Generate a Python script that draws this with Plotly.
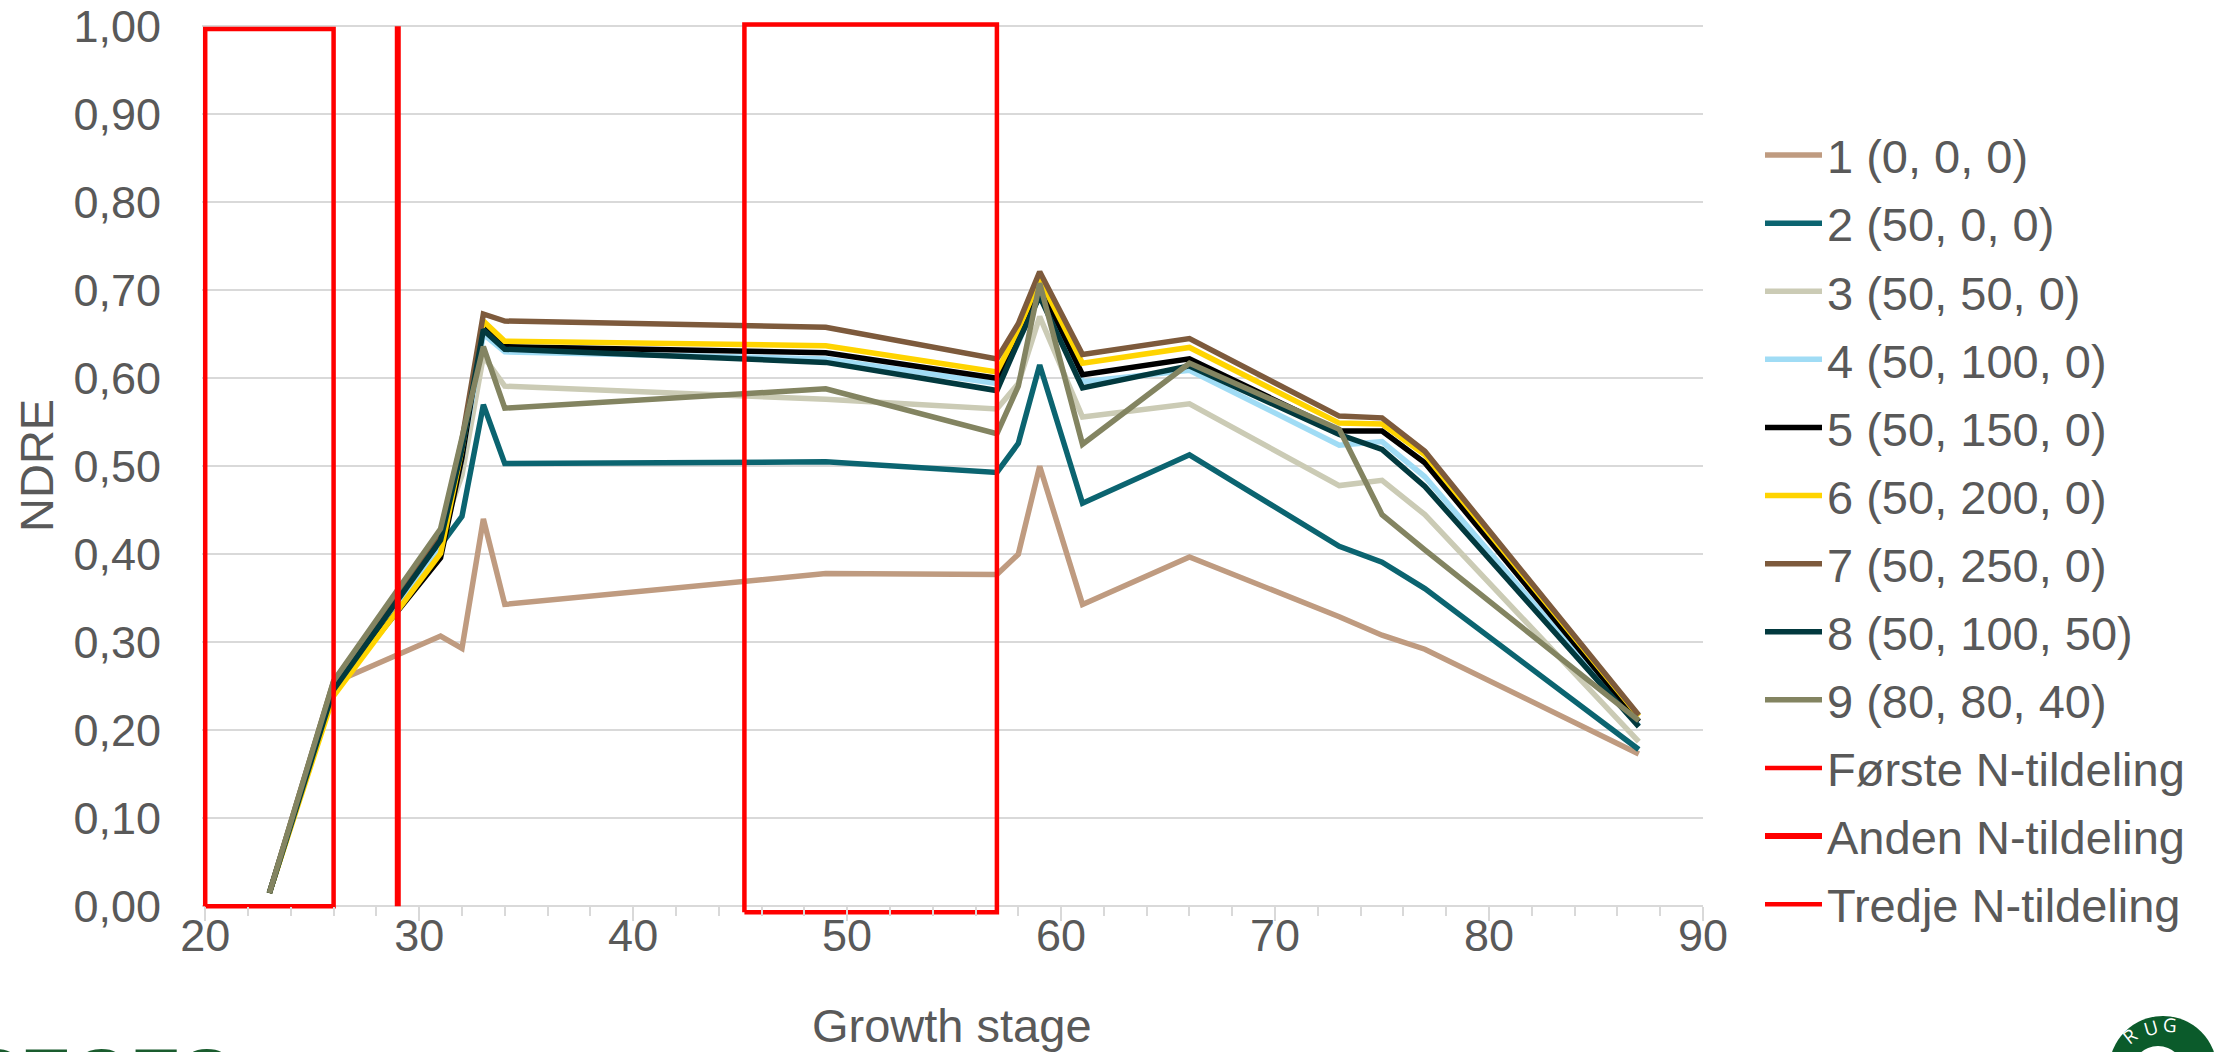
import plotly.graph_objects as go

# Growth stages (BBCH) at which NDRE was measured
growth_stage = [23, 26, 31, 32, 33, 34, 49, 57, 58, 59, 61, 66, 73, 75, 77, 87]

# NDRE per treatment, kg N/ha given as (1st, 2nd, 3rd application)
ndre_1 = [0.015, 0.254, 0.307, 0.293, 0.440, 0.343, 0.378, 0.377, 0.400, 0.500, 0.343, 0.397, 0.329, 0.308, 0.292, 0.173]
ndre_2 = [0.015, 0.250, 0.410, 0.443, 0.570, 0.503, 0.505, 0.493, 0.526, 0.615, 0.458, 0.513, 0.409, 0.391, 0.361, 0.178]
ndre_3 = [0.015, 0.250, 0.420, 0.490, 0.625, 0.591, 0.576, 0.565, 0.594, 0.670, 0.556, 0.571, 0.478, 0.484, 0.445, 0.187]
ndre_4 = [0.015, 0.250, 0.405, 0.510, 0.650, 0.630, 0.622, 0.594, 0.640, 0.700, 0.596, 0.609, 0.524, 0.528, 0.488, 0.205]
ndre_5 = [0.015, 0.245, 0.396, 0.510, 0.661, 0.636, 0.629, 0.600, 0.647, 0.706, 0.604, 0.622, 0.540, 0.540, 0.504, 0.210]
ndre_6 = [0.015, 0.239, 0.401, 0.520, 0.665, 0.642, 0.637, 0.607, 0.655, 0.713, 0.617, 0.635, 0.549, 0.548, 0.513, 0.216]
ndre_7 = [0.015, 0.255, 0.424, 0.530, 0.673, 0.665, 0.658, 0.622, 0.662, 0.721, 0.627, 0.645, 0.557, 0.555, 0.517, 0.217]
ndre_8 = [0.015, 0.246, 0.416, 0.520, 0.655, 0.633, 0.618, 0.586, 0.642, 0.693, 0.589, 0.614, 0.536, 0.519, 0.477, 0.204]
ndre_9 = [0.015, 0.256, 0.429, 0.530, 0.636, 0.566, 0.588, 0.537, 0.591, 0.708, 0.525, 0.617, 0.542, 0.445, 0.405, 0.211]

series_names = [
    "1 (0, 0, 0)", "2 (50, 0, 0)", "3 (50, 50, 0)", "4 (50, 100, 0)",
    "5 (50, 150, 0)", "6 (50, 200, 0)", "7 (50, 250, 0)", "8 (50, 100, 50)",
    "9 (80, 80, 40)",
]
series_values = [ndre_1, ndre_2, ndre_3, ndre_4, ndre_5, ndre_6, ndre_7, ndre_8, ndre_9]
series_colors = [
    "#BF9B80", "#0B6470", "#CBCBB5", "#A0DCF5", "#000000",
    "#FFD400", "#7D5A3C", "#02393E", "#838461",
]

# Nitrogen application windows (growth stage vs. NDRE frame)
first_x = [20, 20, 26, 26, 20]
first_y = [0, 0.997, 0.997, 0, 0]
second_x = [29, 29]
second_y = [0, 1]
third_x = [45.2, 45.2, 57, 57, 45.2]
third_y = [-0.007, 1.002, 1.002, -0.007, -0.007]

x_ticks = [20, 30, 40, 50, 60, 70, 80, 90]
y_ticks = [0.0, 0.1, 0.2, 0.3, 0.4, 0.5, 0.6, 0.7, 0.8, 0.9, 1.0]

X_RANGE = [19.85, 90]
Y_RANGE = [-0.01, 1.006]

W, H = 2214, 1052
M_L, M_R, M_T, M_B = 202, 511, 21, 137
PLOT_W = W - M_L - M_R
PLOT_H = H - M_T - M_B

FONT = "Liberation Sans, Arial, sans-serif"
TEXT = "#595959"
GRID = "#D9D9D9"


def paper_x(px):
    return (px - M_L) / PLOT_W


def paper_y(py):
    return (H - M_B - py) / PLOT_H


fig = go.Figure()

for name, vals, color in zip(series_names, series_values, series_colors):
    fig.add_trace(go.Scatter(
        x=growth_stage, y=vals, name=name, mode="lines",
        line=dict(color=color, width=5.5), legendgroup=name,
    ))

fig.add_trace(go.Scatter(x=first_x, y=first_y, name="Første N-tildeling", mode="lines",
                         line=dict(color="#FF0000", width=4.5), legendgroup="first"))
fig.add_trace(go.Scatter(x=second_x, y=second_y, name="Anden N-tildeling", mode="lines",
                         line=dict(color="#FF0000", width=6), legendgroup="second"))
fig.add_trace(go.Scatter(x=third_x, y=third_y, name="Tredje N-tildeling", mode="lines",
                         line=dict(color="#FF0000", width=4.5), legendgroup="third"))

annotations = [
    dict(text="NDRE", x=paper_x(37), y=paper_y(466), xref="paper", yref="paper",
         showarrow=False, textangle=-90, font=dict(size=47, color=TEXT, family=FONT),
         xanchor="center", yanchor="middle"),
    dict(text="Growth stage", x=paper_x(952), y=paper_y(1025), xref="paper", yref="paper",
         showarrow=False, font=dict(size=47, color=TEXT, family=FONT),
         xanchor="center", yanchor="middle"),
    # SEGES wordmark at the lower left edge
    dict(text="<b>SEGES</b>", x=paper_x(-32), y=paper_y(1075), xref="paper", yref="paper",
         showarrow=False, font=dict(size=76, color="#1A5C2E", family=FONT),
         xanchor="left", yanchor="middle"),
]

# Ring badge lettering at the lower right edge
for ch, px, py, ang in [("R", 2130, 1036, -38), ("U", 2151, 1028, -16), ("G", 2170, 1025, 4)]:
    annotations.append(dict(text=ch, x=paper_x(px), y=paper_y(py), xref="paper", yref="paper",
                            showarrow=False, textangle=ang,
                            font=dict(size=19, color="white", family="Open Sans, sans-serif"),
                            xanchor="center", yanchor="middle"))

shapes = [
    dict(type="circle", xref="paper", yref="paper",
         x0=paper_x(2163 - 54), x1=paper_x(2163 + 54), y0=paper_y(1070 + 54), y1=paper_y(1070 - 54),
         fillcolor="#0B5B2B", line=dict(width=0), layer="above"),
    dict(type="circle", xref="paper", yref="paper",
         x0=paper_x(2158 - 26), x1=paper_x(2158 + 26), y0=paper_y(1072 + 26), y1=paper_y(1072 - 26),
         fillcolor="white", line=dict(width=0), layer="above"),
]

fig.update_layout(
    width=W, height=H,
    margin=dict(l=M_L, r=M_R, t=M_T, b=M_B, pad=0, autoexpand=False),
    paper_bgcolor="white", plot_bgcolor="white",
    separators=",.",
    font=dict(family=FONT, color=TEXT, size=45),
    showlegend=True,
    legend=dict(
        x=paper_x(1760), y=paper_y(118), xanchor="left", yanchor="top",
        font=dict(size=47, color=TEXT, family=FONT),
        itemwidth=57, tracegroupgap=4, bgcolor="rgba(0,0,0,0)", borderwidth=0,
    ),
    xaxis=dict(
        range=X_RANGE, tickvals=x_ticks, tickfont=dict(size=45, color=TEXT),
        ticks="outside", ticklen=14, tickwidth=2, tickcolor=GRID,
        ticklabelstandoff=-24, automargin=False,
        showgrid=False, zeroline=False, showline=False,
        anchor="free", position=(0 - Y_RANGE[0]) / (Y_RANGE[1] - Y_RANGE[0]),
        minor=dict(ticks="outside", ticklen=9, tickwidth=2, tickcolor=GRID,
                   dtick=2, tick0=20, showgrid=False),
    ),
    yaxis=dict(
        range=Y_RANGE, tickvals=y_ticks, tickformat=".2f",
        tickfont=dict(size=45, color=TEXT),
        ticklabelstandoff=40, automargin=False,
        showgrid=True, gridcolor=GRID, gridwidth=2,
        zeroline=False, showline=False, ticks="",
    ),
    annotations=annotations,
    shapes=shapes,
)

fig.write_html("out.html")
